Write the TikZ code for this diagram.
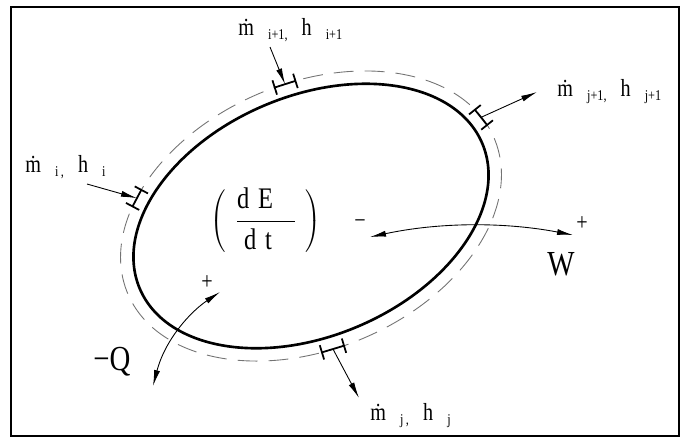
\documentclass[tikz,border=0pt]{standalone}
\usepackage{fontspec}
\setmainfont{Liberation Serif}[FakeStretch=0.82]
\usetikzlibrary{arrows.meta, calc}
\definecolor{rimgray}{RGB}{115,115,115}

\tikzset{
  wall/.style={line width=1.5pt},
  surface/.style={rimgray, line width=0.5pt, dash pattern=on 0.4cm off 0.22cm},
  port/.style={line width=1pt, arrows={Bar[width=0.3cm]-Bar[width=0.3cm]}},
  flow/.style={line width=0.5pt, arrows={-Latex[length=0.32cm,width=0.12cm]}},
  work/.style={line width=0.5pt, arrows={Latex[length=0.32cm,width=0.12cm]-Latex[length=0.32cm,width=0.12cm]}},
  lbl/.style={inner sep=0pt, anchor=base west, font=\fontsize{14}{16}\selectfont},
  sign/.style={inner sep=0pt, font=\fontsize{14}{16}\selectfont},
  big/.style={inner sep=0pt, font=\fontsize{20}{22}\selectfont}
}
\newcommand{\sbs}[1]{\raisebox{-2.5pt}{\fontsize{8.5}{9}\selectfont #1}}
\newcommand{\mflow}[2]{\.m\hspace{8pt}\sbs{#1}\hspace{8pt}h\hspace{8pt}\sbs{#2}}

\begin{document}
\begin{tikzpicture}[x=0.02cm, y=-0.02cm]
\useasboundingbox (0,0) rectangle (682,441);
\draw[line width=1.6pt] (11,7) rectangle (679,436);

% control volume, its surface and the ports on it
\begin{scope}[shift={(311,216)}, rotate=23]
  \draw[wall] (0,0) ellipse [x radius=186, y radius=120];
  \draw[surface] (0,0) ellipse [x radius=199, y radius=133];
  \coordinate (ta) at (-78.6:199 and 133);  \coordinate (tb) at (-85.4:199 and 133);
  \coordinate (la) at (-136.9:199 and 133); \coordinate (lb) at (-144.1:199 and 133);
  \coordinate (ra) at (-6.1:199 and 133);   \coordinate (rb) at (-15.1:199 and 133);
  \coordinate (ba) at (95.6:199 and 133);   \coordinate (bb) at (102.8:199 and 133);
\end{scope}
\draw[port] (ta) -- (tb);
\draw[port] (la) -- (lb);
\draw[port] (ra) -- (rb);
\draw[port] (ba) -- (bb);

% mass flows
\coordinate (tin) at (270,47);
\coordinate (lin) at (87,184);
\coordinate (rout) at (537,92);
\coordinate (bout) at (359,398);
\draw[flow] (tin) -- ($(ta)!0.5!(tb)$);
\draw[flow] (lin) -- ($(la)!0.5!(lb)$);
\draw[flow] ($(ra)!0.5!(rb)$) -- (rout);
\draw[flow] ($(ba)!0.5!(bb)$) -- (bout);

\node[lbl] (mtop) at (238,35) {\mflow{i+1,}{i+1}};
\node[lbl] (mleft) at (25,172) {\mflow{i\,,}{i}};
\node[lbl] (mright) at (557,96) {\mflow{j+1,}{j+1}};
\node[lbl] (mbot) at (370,420) {\mflow{j\,,}{j}};

% energy
\node[inner sep=0pt, font=\fontsize{17}{19}\selectfont] (dedt) at (266,220)
  {$\left(\vrule height 17pt depth 12pt width 0pt\hspace{5pt}\displaystyle\frac{\hbox to 33pt{d\hspace{5pt}E\hfil}}{\hbox to 33pt{\hspace{4pt}d\hspace{5pt}t\hfil}}\hspace{5pt}\right)$};

% work
\coordinate (wl) at (370,237);
\coordinate (wr) at (573,235);
\draw[work] (wl) .. controls (440,222) and (505,222) .. (wr);
\node[sign] (wminus) at (360,224) {−};
\node[sign] (wplus) at (582,224) {+};
\node[big] (wlbl) at (561,264) {W};

% heat
\coordinate (qin) at (220,292);
\coordinate (qout) at (153,386);
\draw[work] (qout) .. controls (165,340) and (190,312) .. (qin);
\node[sign] (qplus) at (207,283) {+};
\node[big] (qlbl) at (112,362) {−Q};
\end{tikzpicture}
\end{document}
